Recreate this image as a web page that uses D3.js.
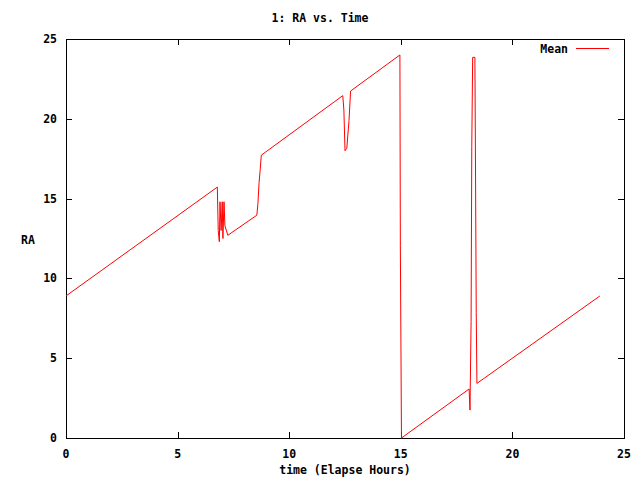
<!DOCTYPE html>
<html><head><meta charset="utf-8">
<script src="https://cdn.jsdelivr.net/npm/d3@7"></script>
<style>
body{margin:0;background:#fff;}
text{font-family:"DejaVu Sans Mono","Liberation Mono",monospace;font-weight:bold;font-size:11.5px;fill:#000;}
</style></head>
<body>
<svg id="c" width="640" height="480"></svg>
<script>
const title = "1: RA vs. Time";
const xLabel = "time (Elapse Hours)";
const yLabel = "RA";
const seriesName = "Mean";
const xTicks = [0, 5, 10, 15, 20, 25];
const yTicks = [0, 5, 10, 15, 20, 25];
const timeHours = [0, 6.78, 6.82, 6.87, 6.90, 6.95, 7.00, 7.03, 7.08, 7.12, 7.25, 8.55, 8.60, 8.65, 8.70, 8.75,
  12.40, 12.45, 12.50, 12.58, 12.68, 12.75, 14.96, 14.98, 15.03,
  18.06, 18.10, 18.15, 18.18, 18.22, 18.32, 18.34, 18.38, 18.41, 23.92];
const raMean = [8.9, 15.72, 13.0, 12.3, 14.8, 13.0, 14.8, 12.5, 14.8, 13.3, 12.7, 13.96, 14.7, 16.0, 16.8, 17.72,
  21.45, 20.55, 18.0, 18.15, 19.9, 21.74, 24.0, 12.04, 0.0,
  3.07, 1.75, 7.3, 18.25, 23.85, 23.85, 18.73, 7.85, 3.42, 8.9];

const svg = d3.select("#c");
const L = 66, R = 624, T = 39, B = 438;
const x = d3.scaleLinear().domain([0, 25]).range([L, R]);
const y = d3.scaleLinear().domain([0, 25]).range([B, T]);

svg.append("rect").attr("x", L + 0.5).attr("y", T + 0.5).attr("width", R - L).attr("height", B - T)
  .attr("fill", "none").attr("stroke", "#000").attr("stroke-width", 1);

const tl = 6;
const g = svg.append("g").attr("shape-rendering", "crispEdges");
xTicks.forEach(v => {
  const px = Math.round(x(v)) + 0.5;
  g.append("line").attr("x1", px).attr("x2", px).attr("y1", B).attr("y2", B - tl).attr("stroke", "#000");
  g.append("line").attr("x1", px).attr("x2", px).attr("y1", T).attr("y2", T + tl).attr("stroke", "#000");
  svg.append("text").attr("x", x(v)).attr("y", 458).attr("text-anchor", "middle").text(v);
});
yTicks.forEach(v => {
  const py = Math.round(y(v)) + 0.5;
  g.append("line").attr("x1", L).attr("x2", L + tl).attr("y1", py).attr("y2", py).attr("stroke", "#000");
  g.append("line").attr("x1", R).attr("x2", R - tl).attr("y1", py).attr("y2", py).attr("stroke", "#000");
  svg.append("text").attr("x", 57).attr("y", y(v) + 4).attr("text-anchor", "end").text(v);
});

svg.append("text").attr("x", 320).attr("y", 22).attr("text-anchor", "middle").text(title);
svg.append("text").attr("x", 345).attr("y", 474).attr("text-anchor", "middle").text(xLabel);
svg.append("text").attr("x", 28).attr("y", 244).attr("text-anchor", "middle").text(yLabel);

const data = timeHours.map((t, i) => [t, raMean[i]]);
const line = d3.line().x(d => x(d[0])).y(d => y(d[1]));
svg.append("path").datum(data).attr("d", line).attr("fill", "none").attr("stroke", "#ff0000").attr("stroke-width", 1);

svg.append("text").attr("x", 568).attr("y", 53).attr("text-anchor", "end").text(seriesName);
svg.append("line").attr("x1", 576).attr("x2", 609).attr("y1", 48.5).attr("y2", 48.5).attr("stroke", "#ff0000");
</script>
</body></html>
